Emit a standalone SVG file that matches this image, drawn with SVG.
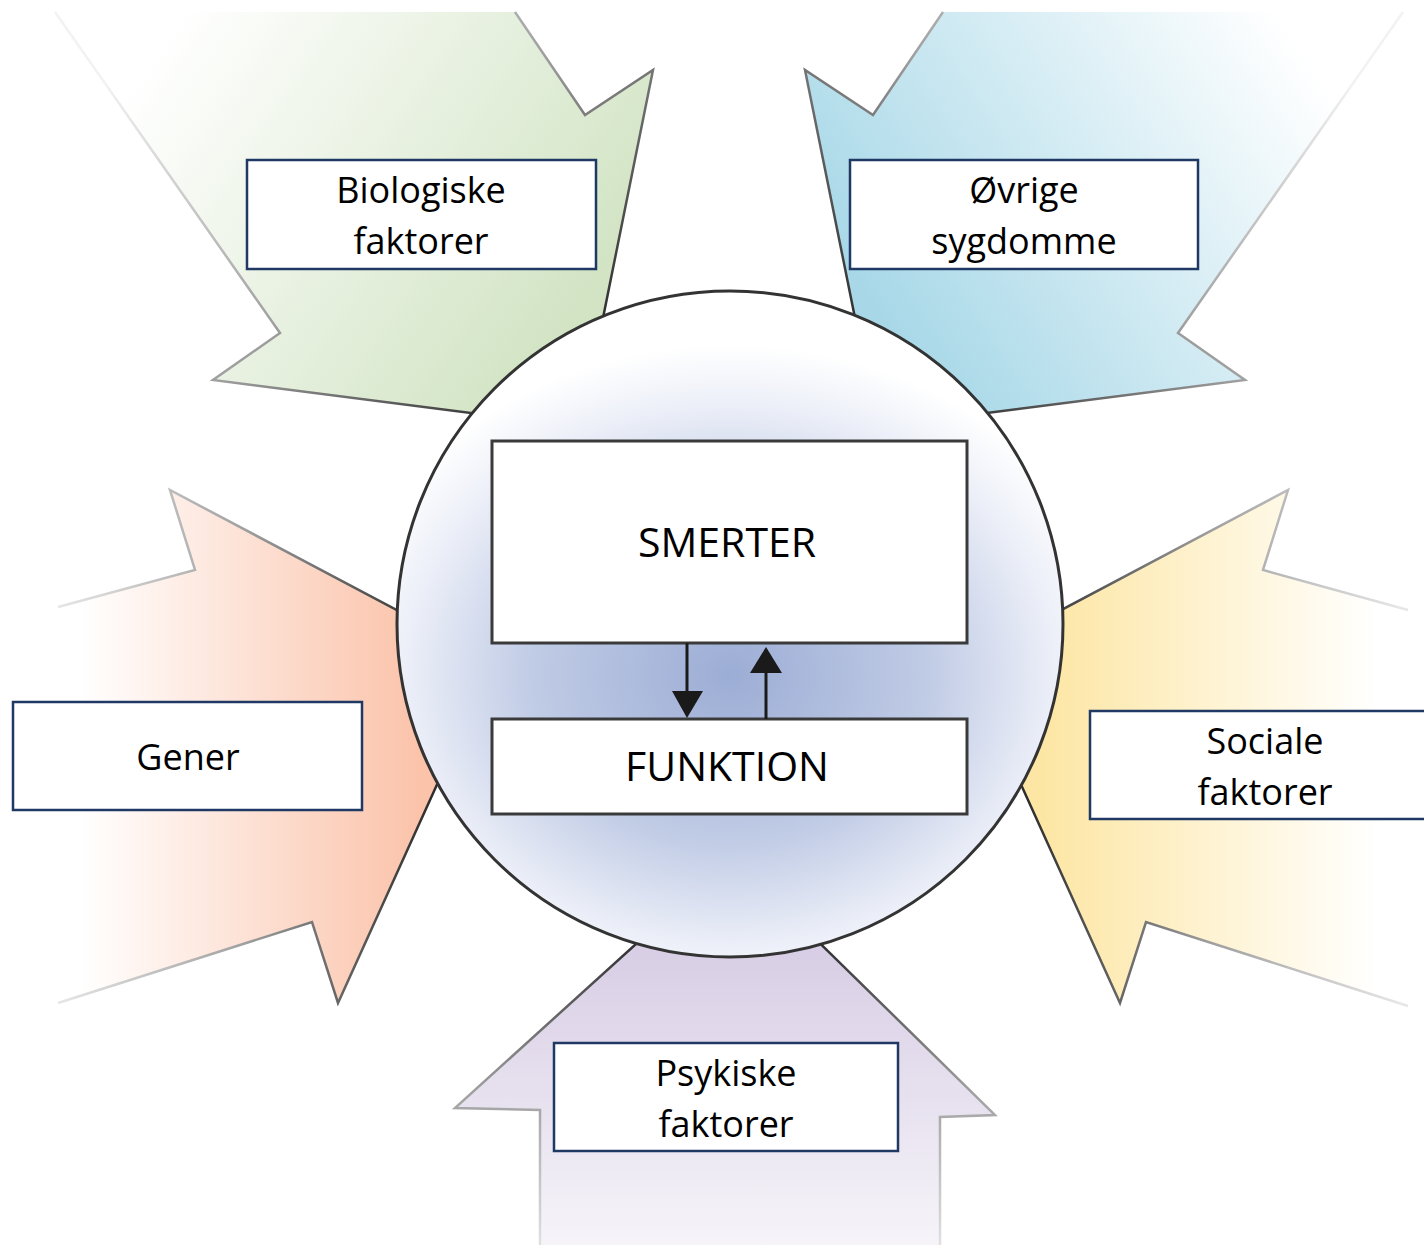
<svg xmlns="http://www.w3.org/2000/svg" width="1424" height="1245" viewBox="0 0 1424 1245">
<style>
.lbl{fill:#ffffff;stroke:#1f3864;stroke-width:2.5}
.core{fill:#ffffff;stroke:#3a3a3a;stroke-width:3}
.t{font-family:"Open Sans","Noto Sans","DejaVu Sans",sans-serif;font-size:36px;fill:#000;text-anchor:middle}
.tc{font-family:"Open Sans","Noto Sans","DejaVu Sans",sans-serif;font-size:41px;fill:#000;text-anchor:middle}
.edge{fill:none;stroke-width:2.5;stroke-linejoin:miter}
.conn{stroke:#1a1a1a;stroke-width:3;fill:none}
.head{fill:#1a1a1a}
</style>
<defs>
<linearGradient id="gGreen" gradientUnits="userSpaceOnUse" x1="150" y1="60" x2="560" y2="340">
<stop offset="0" stop-color="#ffffff"/><stop offset="1" stop-color="#d2e4c4"/></linearGradient>
<linearGradient id="sGreen" gradientUnits="userSpaceOnUse" x1="150" y1="40" x2="520" y2="410">
<stop offset="0" stop-color="#f2f2f2"/><stop offset="0.55" stop-color="#a0a0a0"/><stop offset="1" stop-color="#2e2e2e"/></linearGradient>
<linearGradient id="gBlue" gradientUnits="userSpaceOnUse" x1="1308" y1="60" x2="898" y2="340">
<stop offset="0" stop-color="#ffffff"/><stop offset="1" stop-color="#a8d8e8"/></linearGradient>
<linearGradient id="sBlue" gradientUnits="userSpaceOnUse" x1="1308" y1="40" x2="938" y2="410">
<stop offset="0" stop-color="#f2f2f2"/><stop offset="0.55" stop-color="#a0a0a0"/><stop offset="1" stop-color="#2e2e2e"/></linearGradient>
<linearGradient id="gSalmon" gradientUnits="userSpaceOnUse" x1="80" y1="0" x2="420" y2="0">
<stop offset="0" stop-color="#ffffff"/><stop offset="1" stop-color="#fbc3aa"/></linearGradient>
<linearGradient id="sSalmon" gradientUnits="userSpaceOnUse" x1="58" y1="0" x2="430" y2="0">
<stop offset="0" stop-color="#e6e6e6"/><stop offset="0.5" stop-color="#a0a0a0"/><stop offset="1" stop-color="#2e2e2e"/></linearGradient>
<linearGradient id="gYellow" gradientUnits="userSpaceOnUse" x1="1378" y1="0" x2="1038" y2="0">
<stop offset="0" stop-color="#ffffff"/><stop offset="1" stop-color="#fde6a3"/></linearGradient>
<linearGradient id="sYellow" gradientUnits="userSpaceOnUse" x1="1400" y1="0" x2="1028" y2="0">
<stop offset="0" stop-color="#e6e6e6"/><stop offset="0.5" stop-color="#a0a0a0"/><stop offset="1" stop-color="#2e2e2e"/></linearGradient>
<linearGradient id="gPurple" gradientUnits="userSpaceOnUse" x1="0" y1="950" x2="0" y2="1245">
<stop offset="0" stop-color="#d8cee5"/><stop offset="1" stop-color="#f6f4f9"/></linearGradient>
<linearGradient id="sPurple" gradientUnits="userSpaceOnUse" x1="0" y1="1245" x2="0" y2="940">
<stop offset="0" stop-color="#e0e0e0"/><stop offset="0.5" stop-color="#a0a0a0"/><stop offset="1" stop-color="#2e2e2e"/></linearGradient>
<radialGradient id="gCircle" gradientUnits="userSpaceOnUse" cx="730" cy="675" r="330" gradientTransform="translate(730 675) scale(1.2 1) translate(-730 -675)">
<stop offset="0" stop-color="#9cadd5"/><stop offset="0.5" stop-color="#c0cbe5"/><stop offset="0.82" stop-color="#eceff8"/><stop offset="1" stop-color="#ffffff"/></radialGradient>
</defs>

<g id="arrow-biologiske">
<polygon points="55,12 280,333 213,380 581,427 653,70 585,115 515,12" fill="url(#gGreen)"/>
<polyline class="edge" points="55,12 280,333 213,380 581,427 653,70 585,115 515,12" stroke="url(#sGreen)"/>
</g>
<g id="arrow-ovrige">
<polygon points="1403,12 1178,333 1245,380 877,427 805,70 873,115 943,12" fill="url(#gBlue)"/>
<polyline class="edge" points="1403,12 1178,333 1245,380 877,427 805,70 873,115 943,12" stroke="url(#sBlue)"/>
</g>
<g id="arrow-gener">
<polygon points="58,607 195,570 170,490 493,661 338,1003 312,922 58,1003" fill="url(#gSalmon)"/>
<polyline class="edge" points="58,607 195,570 170,490 493,661 338,1003 312,922 58,1003" stroke="url(#sSalmon)"/>
</g>
<g id="arrow-sociale">
<polygon points="1408,610 1263,570 1288,490 965,661 1120,1003 1146,922 1408,1006" fill="url(#gYellow)"/>
<polyline class="edge" points="1408,610 1263,570 1288,490 965,661 1120,1003 1146,922 1408,1006" stroke="url(#sYellow)"/>
</g>
<g id="arrow-psykiske">
<polygon points="540,1245 540,1110 455,1108 732,857 995,1115 940,1117 940,1245" fill="url(#gPurple)"/>
<polyline class="edge" points="540,1245 540,1110 455,1108 732,857 995,1115 940,1117 940,1245" stroke="url(#sPurple)"/>
</g>

<g id="circle">
<circle cx="730" cy="624" r="333" fill="url(#gCircle)" stroke="#333333" stroke-width="3"/>
</g>

<g id="smerter">
<rect class="core" x="492" y="441" width="475" height="202"/>
<text class="tc" x="727" y="557">SMERTER</text>
</g>
<g id="funktion">
<rect class="core" x="492" y="719" width="475" height="95"/>
<text class="tc" x="727" y="781">FUNKTION</text>
</g>

<g id="connectors">
<line class="conn" x1="687" y1="643" x2="687" y2="693"/>
<polygon class="head" points="672,691 703,691 687,718"/>
<line class="conn" x1="766" y1="719" x2="766" y2="671"/>
<polygon class="head" points="750,673 782,673 766,647"/>
</g>

<g id="label-biologiske">
<rect class="lbl" x="247" y="160" width="349" height="109"/>
<text class="t" x="421" y="203">Biologiske</text>
<text class="t" x="421" y="254">faktorer</text>
</g>
<g id="label-ovrige">
<rect class="lbl" x="850" y="160" width="348" height="109"/>
<text class="t" x="1024" y="203">Øvrige</text>
<text class="t" x="1024" y="254">sygdomme</text>
</g>
<g id="label-gener">
<rect class="lbl" x="13" y="702" width="349" height="108"/>
<text class="t" x="188" y="770">Gener</text>
</g>
<g id="label-sociale">
<rect class="lbl" x="1090" y="711" width="345" height="108"/>
<text class="t" x="1265" y="754">Sociale</text>
<text class="t" x="1265" y="805">faktorer</text>
</g>
<g id="label-psykiske">
<rect class="lbl" x="554" y="1043" width="344" height="108"/>
<text class="t" x="726" y="1086">Psykiske</text>
<text class="t" x="726" y="1137">faktorer</text>
</g>
</svg>
